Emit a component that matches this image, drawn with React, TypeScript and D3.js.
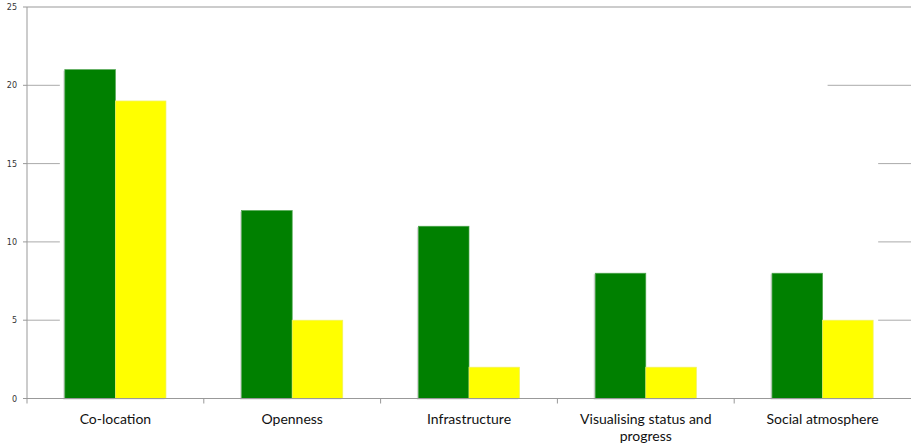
import React from "react";
import * as d3 from "d3";

const categories = ["Co-location", "Openness", "Infrastructure", "Visualising status and progress", "Social atmosphere"];
const greenValues = [21, 12, 11, 8, 8];
const yellowValues = [19, 5, 2, 2, 5];
const yTicks = [0, 5, 10, 15, 20, 25];

const W = 911, H = 448;
const left = 27, right = 911, top = 7, bottom = 398.5;

function wrapLabel(s: string): string[] {
  if (s === "Visualising status and progress") return ["Visualising status and", "progress"];
  return [s];
}

export default function App() {
  const x = d3.scaleBand<string>().domain(categories).range([left, right]).paddingInner(0).paddingOuter(0);
  const y = d3.scaleLinear().domain([0, 25]).range([bottom, top]);
  const bw = x.bandwidth();
  const barW = bw * 0.286;
  const inner = (bw - 2 * barW) / 2;
  const lastX = x(categories[categories.length - 1])!;
  const firstX = x(categories[0])!;

  return (
    <svg width={W} height={H} style={{ position: "absolute", left: 0, top: 0, background: "#fff" }}>
      {/* gridlines (visible outside the bar span) */}
      {yTicks.filter(t => t > 0).map(t => {
        if (t === 25) {
          return <line key={t} x1={left} x2={right} y1={y(t)} y2={y(t)} stroke="#999" strokeWidth={1} />;
        }
        const rs = t === 20 ? lastX + inner + barW + 5 : lastX + inner + 2 * barW + 5;
        return (
          <g key={t}>
            <line x1={left} x2={firstX + inner - 5} y1={y(t)} y2={y(t)} stroke="#aaa" strokeWidth={1} />
            <line x1={rs} x2={right} y1={y(t)} y2={y(t)} stroke="#aaa" strokeWidth={1} />
          </g>
        );
      })}
      {/* bars */}
      {categories.map((c, i) => {
        const gx = x(c)! + inner;
        return (
          <g key={c}>
            <rect x={gx - 1.5} y={y(greenValues[i]) + 1} width={barW} height={bottom - y(greenValues[i])} fill="#bbb" opacity={0.6} />
            <rect x={gx + barW - 1.5} y={y(yellowValues[i]) + 1} width={barW} height={bottom - y(yellowValues[i])} fill="#ccc" opacity={0.5} />
            <rect x={gx} y={y(greenValues[i])} width={barW} height={bottom - y(greenValues[i])} fill="#008000" stroke="#4fa64f" strokeWidth={0.7} />
            <rect x={gx + barW} y={y(yellowValues[i])} width={barW} height={bottom - y(yellowValues[i])} fill="#ffff00" stroke="#f0f06a" strokeWidth={0.7} />
          </g>
        );
      })}
      {/* y axis */}
      <line x1={left} x2={left} y1={top} y2={bottom} stroke="#999" strokeWidth={1} />
      {yTicks.map(t => (
        <g key={t}>
          <line x1={left - 4} x2={left} y1={y(t)} y2={y(t)} stroke="#999" />
          <text x={17} y={y(t) + 3} textAnchor="end" fontFamily="DejaVu Sans" fontSize={8} fill="#333">{t}</text>
        </g>
      ))}
      {/* x axis */}
      <line x1={left} x2={right} y1={bottom} y2={bottom} stroke="#999" strokeWidth={1} />
      {categories.map((c, i) => (
        <line key={"t" + i} x1={x(c)!} x2={x(c)!} y1={bottom} y2={bottom + 5} stroke="#999" />
      ))}
      {categories.map(c => (
        <text key={"l" + c} x={x(c)! + bw / 2} textAnchor="middle" fontFamily="Lato, 'Open Sans', sans-serif" fontSize={14} fill="#111">
          {wrapLabel(c).map((ln, k) => (
            <tspan key={k} x={x(c)! + bw / 2} y={424 + k * 17}>{ln}</tspan>
          ))}
        </text>
      ))}
    </svg>
  );
}
